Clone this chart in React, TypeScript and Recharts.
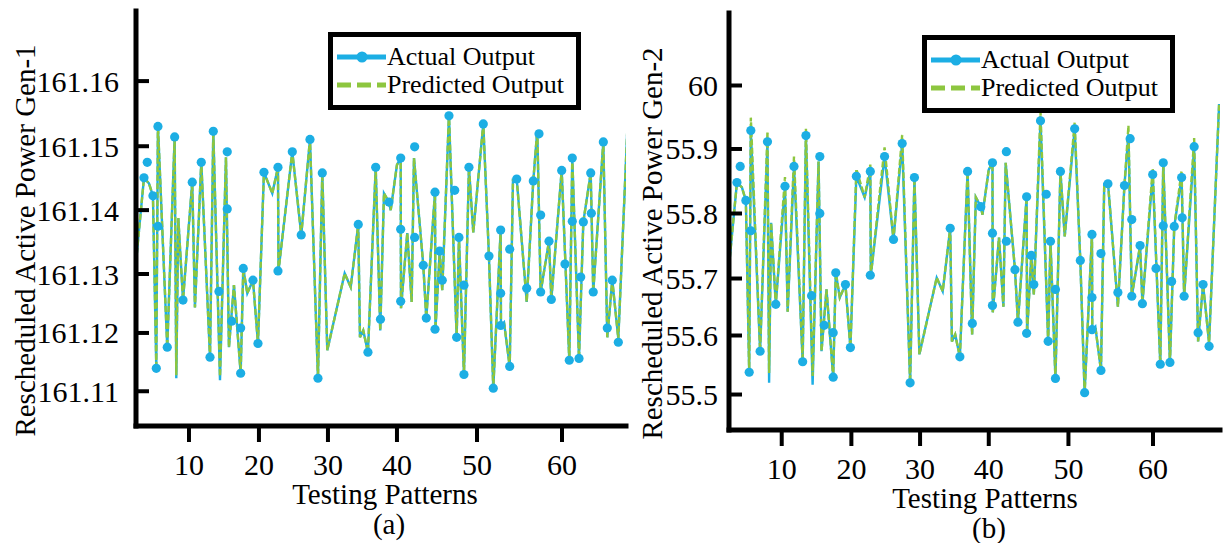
import { ComposedChart, Line, Scatter, XAxis, YAxis, Legend, Label } from "recharts";

const BLUE = "#1caee4";
const GREEN = "#8dc63f";
const FONT = '"Liberation Serif", "Times New Roman", serif';

// testing pattern position of each vertex of the output curves
const patternX = [
  2.9, 3.97, 4.64, 5.17, 5.62, 5.84, 7.09, 8.08, 8.3, 8.57,
  9.2, 10.44, 10.8, 11.65, 12.82, 13.26, 14.16, 14.96, 15.36, 16.03,
  16.93, 17.28, 17.82, 18.58, 19.25, 20.05, 21.17, 21.93, 22.0, 23.85,
  25.05, 26.22, 27.29, 27.87, 28.54, 30.87, 31.68, 32.69, 32.92, 33.36,
  33.99, 35.03, 35.64, 36.14, 36.81, 37.04, 37.88, 38.38, 38.42, 39.26,
  39.85, 40.16, 41.41, 41.81, 42.98, 43.04, 43.61, 43.95, 44.85, 45.88,
  46.19, 46.86, 47.53, 48.11, 49.45, 50.21, 50.79, 51.78, 51.82, 52.23,
  52.99, 53.43, 53.97, 55.27, 56.15, 56.69, 57.14, 58.26, 58.57, 59.96,
  60.98, 61.38, 62.28, 62.86, 63.85, 64.19, 65.54, 66.07, 66.74, 67.55,
  68.9,
];

const gen1Actual = [
  161.1308, 161.1444, 161.1435, 161.1415, 161.1137, 161.1527, 161.1171, 161.151, 161.1121, 161.1379,
  161.1247, 161.1437, 161.1235, 161.1469, 161.1155, 161.1519, 161.1118, 161.1477, 161.1171, 161.1271,
  161.1129, 161.1298, 161.1258, 161.1279, 161.1177, 161.1453, 161.1419, 161.1461, 161.1294, 161.1486,
  161.1352, 161.1506, 161.1121, 161.1452, 161.1166, 161.129, 161.1268, 161.1369, 161.1187, 161.1198,
  161.1163, 161.1461, 161.1198, 161.1419, 161.1405, 161.1392, 161.1465, 161.1476, 161.1234, 161.1355,
  161.1244, 161.1476, 161.1303, 161.1218, 161.1421, 161.12, 161.1326, 161.1263, 161.1544, 161.1187,
  161.1348, 161.1127, 161.1461, 161.1356, 161.1531, 161.1318, 161.1105, 161.136, 161.1206, 161.1211,
  161.114, 161.144, 161.1437, 161.1244, 161.1439, 161.1521, 161.126, 161.1342, 161.1248, 161.1456,
  161.115, 161.1476, 161.1153, 161.1373, 161.1452, 161.126, 161.1502, 161.1187, 161.1279, 161.1185,
  161.1561,
];

const gen1Predicted = [
  161.1308, 161.1444, 161.1435, 161.1415, 161.1142, 161.153, 161.1171, 161.151, 161.1126, 161.1379,
  161.1247, 161.1437, 161.1235, 161.1469, 161.1155, 161.1519, 161.1124, 161.1477, 161.1171, 161.1271,
  161.1129, 161.1298, 161.1258, 161.1279, 161.1177, 161.1453, 161.1419, 161.1461, 161.1294, 161.1486,
  161.1352, 161.1506, 161.1121, 161.1452, 161.1166, 161.129, 161.1268, 161.1369, 161.1187, 161.1198,
  161.1163, 161.1461, 161.1198, 161.1419, 161.1405, 161.1392, 161.1465, 161.1476, 161.1234, 161.1355,
  161.1244, 161.1476, 161.1303, 161.1218, 161.1421, 161.12, 161.1326, 161.1263, 161.1547, 161.1187,
  161.1348, 161.1127, 161.1461, 161.1356, 161.1531, 161.1318, 161.1105, 161.136, 161.1206, 161.1211,
  161.114, 161.144, 161.1437, 161.1244, 161.1439, 161.1521, 161.126, 161.1342, 161.1248, 161.1456,
  161.115, 161.1476, 161.1153, 161.1373, 161.1452, 161.126, 161.1502, 161.1187, 161.1279, 161.1185,
  161.1561,
];

const gen2Actual = [
  55.708, 55.843, 55.835, 55.814, 55.536, 55.927, 55.57, 55.909, 55.519, 55.778,
  55.646, 55.837, 55.634, 55.869, 55.553, 55.919, 55.516, 55.877, 55.57, 55.67,
  55.528, 55.697, 55.657, 55.678, 55.576, 55.853, 55.819, 55.861, 55.693, 55.885,
  55.751, 55.906, 55.519, 55.851, 55.565, 55.689, 55.667, 55.769, 55.586, 55.597,
  55.561, 55.861, 55.597, 55.819, 55.804, 55.791, 55.864, 55.875, 55.633, 55.754,
  55.642, 55.875, 55.702, 55.617, 55.82, 55.599, 55.725, 55.662, 55.943, 55.586,
  55.748, 55.526, 55.861, 55.756, 55.93, 55.717, 55.503, 55.759, 55.605, 55.61,
  55.539, 55.84, 55.837, 55.642, 55.838, 55.921, 55.659, 55.741, 55.647, 55.856,
  55.549, 55.875, 55.552, 55.772, 55.851, 55.659, 55.901, 55.586, 55.678, 55.584,
  55.97,
];

const gen2Predicted = [
  55.708, 55.843, 55.835, 55.814, 55.536, 55.948, 55.57, 55.925, 55.535, 55.778,
  55.646, 55.852, 55.634, 55.885, 55.553, 55.93, 55.53, 55.877, 55.57, 55.67,
  55.528, 55.697, 55.657, 55.678, 55.576, 55.865, 55.819, 55.872, 55.693, 55.9,
  55.751, 55.92, 55.519, 55.851, 55.565, 55.689, 55.667, 55.769, 55.586, 55.597,
  55.561, 55.861, 55.597, 55.819, 55.804, 55.791, 55.864, 55.875, 55.633, 55.754,
  55.642, 55.875, 55.702, 55.617, 55.82, 55.599, 55.725, 55.662, 55.958, 55.586,
  55.748, 55.526, 55.861, 55.756, 55.94, 55.717, 55.503, 55.759, 55.605, 55.61,
  55.539, 55.84, 55.837, 55.642, 55.838, 55.935, 55.659, 55.741, 55.647, 55.866,
  55.549, 55.875, 55.552, 55.772, 55.862, 55.659, 55.915, 55.586, 55.678, 55.584,
  55.97,
];

// marked samples of the actual output
const markerX = [
  3.97, 4.41, 5.17, 5.62, 5.84, 5.84, 7.09, 8.08, 9.2, 10.44,
  11.65, 12.82, 13.26, 14.02, 15.13, 15.13, 15.72, 16.93, 16.93, 17.28,
  18.58, 19.25, 20.05, 21.93, 21.93, 23.85, 25.05, 26.22, 27.29, 27.87,
  32.69, 33.99, 35.03, 35.67, 36.81, 38.38, 38.38, 38.38, 40.25, 40.25,
  41.41, 41.81, 42.98, 42.98, 43.61, 43.95, 44.85, 45.62, 45.88, 46.19,
  46.86, 46.86, 47.53, 49.45, 50.21, 50.79, 51.78, 51.78, 51.78, 52.99,
  52.99, 53.93, 55.27, 56.15, 56.92, 57.14, 57.14, 58.26, 58.57, 59.96,
  60.4, 60.98, 61.38, 61.38, 62.28, 62.51, 62.86, 63.85, 63.93, 64.19,
  65.54, 66.07, 66.74, 67.55,
];

const gen1Markers = [
  161.1444, 161.1469, 161.1415, 161.1137, 161.1527, 161.1366, 161.1171, 161.151, 161.1247, 161.1437,
  161.1469, 161.1155, 161.1519, 161.1261, 161.1486, 161.1394, 161.1213, 161.1129, 161.1202, 161.1298,
  161.1279, 161.1177, 161.1453, 161.1461, 161.1294, 161.1486, 161.1352, 161.1506, 161.1121, 161.1452,
  161.1369, 161.1163, 161.1461, 161.1216, 161.1405, 161.1476, 161.1361, 161.1245, 161.1494, 161.1348,
  161.1303, 161.1218, 161.1421, 161.12, 161.1326, 161.1279, 161.1544, 161.1424, 161.1187, 161.1348,
  161.1271, 161.1127, 161.1461, 161.1531, 161.1318, 161.1105, 161.136, 161.1258, 161.1206, 161.114,
  161.1329, 161.1442, 161.1266, 161.1439, 161.1515, 161.1384, 161.126, 161.1342, 161.1248, 161.1456,
  161.1305, 161.115, 161.1476, 161.1374, 161.1153, 161.1284, 161.1373, 161.1452, 161.1387, 161.126,
  161.1502, 161.1202, 161.1279, 161.1179,
];

const gen2Markers = [
  55.843, 55.869, 55.814, 55.536, 55.927, 55.765, 55.57, 55.909, 55.646, 55.837,
  55.869, 55.553, 55.919, 55.66, 55.885, 55.793, 55.612, 55.528, 55.6, 55.697,
  55.678, 55.576, 55.853, 55.861, 55.693, 55.885, 55.751, 55.906, 55.519, 55.851,
  55.769, 55.561, 55.861, 55.615, 55.804, 55.875, 55.761, 55.644, 55.893, 55.748,
  55.702, 55.617, 55.82, 55.599, 55.725, 55.678, 55.943, 55.824, 55.586, 55.748,
  55.67, 55.526, 55.861, 55.93, 55.717, 55.503, 55.759, 55.657, 55.605, 55.539,
  55.728, 55.841, 55.665, 55.838, 55.914, 55.783, 55.659, 55.741, 55.647, 55.856,
  55.704, 55.549, 55.875, 55.773, 55.552, 55.683, 55.772, 55.851, 55.786, 55.659,
  55.901, 55.6, 55.678, 55.578,
];

// tick marks sit where the printed figure puts them
const xTickPos = [10, 19.38, 28.63, 37.88, 48.61, 60];
const xTickLabels = ["10", "20", "30", "40", "50", "60"];
const gen1TickPos = [161.11, 161.1194, 161.1289, 161.1392, 161.1495, 161.16];
const gen1TickLabels = ["161.11", "161.12", "161.13", "161.14", "161.15", "161.16"];
const gen2TickPos = [55.5, 55.5955, 55.6877, 55.7929, 55.8973, 56.0];
const gen2TickLabels = ["55.5", "55.6", "55.7", "55.8", "55.9", "60"];

const rowsOf = (actual: number[], predicted: number[]) =>
  patternX.map((x, i) => ({ x, actual: actual[i], predicted: predicted[i] }));
const marksOf = (vals: number[]) => markerX.map((x, i) => ({ x, y: vals[i] }));

const frame = { stroke: "#000", strokeWidth: 5, strokeLinecap: "square" as const };

const labelFor = (ticks: number[], labels: string[], v: number) => labels[ticks.indexOf(v)] ?? "";

const LegendBox = ({ payload }: any) => {
  const items = (payload || []).filter((p: any) => p.type !== "none");
  return (
    <svg width={253} height={78} style={{ display: "block" }}>
      <rect x={2.5} y={2.5} width={248} height={73} fill="#fff" stroke="#000" strokeWidth={5} />
      {items.map((p: any, i: number) => {
        const cy = 25 + i * 28;
        const dashed = p.dataKey === "predicted";
        return (
          <g key={p.value}>
            <line x1={9} x2={58} y1={cy} y2={cy} stroke={p.color} strokeWidth={5}
              strokeDasharray={dashed ? "14 6" : undefined} />
            {!dashed && <circle cx={34} cy={cy} r={5.5} fill={BLUE} />}
            <text x={59} y={cy + 8} fontSize={26} fontFamily={FONT} fill="#000">{p.value}</text>
          </g>
        );
      })}
    </svg>
  );
};

type PanelProps = {
  left: number;
  width: number;
  plot: { left: number; right: number; top: number; bottom: number };
  xDomain: [number, number];
  yDomain: [number, number];
  yTicks: number[];
  yLabels: string[];
  labelGap: number;
  yTitle: string;
  yTitleX: number;
  xTitleX: number;
  caption: string;
  legendAt: { x: number; y: number };
  actual: number[];
  predicted: number[];
  marks: number[];
};

const Panel = (p: PanelProps) => {
  const H = 543;
  const rows = rowsOf(p.actual, p.predicted);
  const dots = marksOf(p.marks);
  const midY = (p.plot.top + p.plot.bottom) / 2;

  return (
    <div style={{ position: "absolute", left: p.left, top: 0 }}>
      <ComposedChart width={p.width} height={H}
        margin={{ top: p.plot.top, right: p.width - p.plot.right, bottom: 0, left: 0 }}>
        <XAxis xAxisId="b" dataKey="x" type="number" domain={p.xDomain} allowDataOverflow
          ticks={xTickPos} interval={0} height={H - p.plot.bottom} tickSize={0} tickMargin={0}
          axisLine={frame} tickLine={false}
          tick={(t: any) => (
            <g>
              <line x1={t.x} x2={t.x} y1={t.y + 2} y2={t.y + 16} stroke="#000" strokeWidth={4} />
              <text x={t.x} y={t.y + 38} textAnchor="middle" dominantBaseline="central"
                fontSize={30} fontFamily={FONT} fill="#000">
                {labelFor(xTickPos, xTickLabels, t.payload.value)}
              </text>
            </g>
          )}>
          <Label content={() => (
            <g fontFamily={FONT} fill="#000" fontSize={29} textAnchor="middle">
              <text x={p.xTitleX} y={p.plot.bottom + 68} dominantBaseline="central">Testing Patterns</text>
              <text x={p.xTitleX + 4} y={p.plot.bottom + 98} dominantBaseline="central">{p.caption}</text>
            </g>
          )} />
        </XAxis>
        <XAxis xAxisId="t" orientation="top" dataKey="x" type="number" domain={p.xDomain} allowDataOverflow
          ticks={xTickPos} interval={0} height={0} tickSize={0} tickMargin={0}
          axisLine={frame} tickLine={false}
          tick={(t: any) => <line x1={t.x} x2={t.x} y1={t.y} y2={t.y + 12} stroke="#000" strokeWidth={4} />} />
        <YAxis yAxisId="l" dataKey="y" type="number" domain={p.yDomain} allowDataOverflow
          ticks={p.yTicks} interval={0} width={p.plot.left} tickSize={0} tickMargin={0}
          axisLine={frame} tickLine={false}
          tick={(t: any) => (
            <g>
              <line x1={t.x} x2={t.x + 13} y1={t.y} y2={t.y} stroke="#000" strokeWidth={4} />
              <text x={t.x - p.labelGap} y={t.y} textAnchor="end" dominantBaseline="central"
                fontSize={30} fontFamily={FONT} fill="#000">
                {labelFor(p.yTicks, p.yLabels, t.payload.value)}
              </text>
            </g>
          )}>
          <Label content={() => (
            <text x={p.yTitleX} y={midY + 22} transform={`rotate(-90 ${p.yTitleX} ${midY + 22})`}
              textAnchor="middle" dominantBaseline="central" fontSize={29} fontFamily={FONT} fill="#000">
              {p.yTitle}
            </text>
          )} />
        </YAxis>
        <YAxis yAxisId="r" orientation="right" type="number" domain={p.yDomain} allowDataOverflow
          ticks={p.yTicks} interval={0} width={0} tickSize={0} tickMargin={0}
          axisLine={frame} tickLine={false}
          tick={(t: any) => <line x1={t.x - 13} x2={t.x} y1={t.y} y2={t.y} stroke="#000" strokeWidth={4} />} />

        <Line xAxisId="b" yAxisId="l" data={rows} dataKey="actual" name="Actual Output"
          stroke={BLUE} strokeWidth={2.4} dot={false} isAnimationActive={false} />
        <Line xAxisId="b" yAxisId="l" data={rows} dataKey="predicted" name="Predicted Output"
          stroke={GREEN} strokeWidth={2.4} strokeDasharray="6 2.5" dot={false} isAnimationActive={false} />
        <Scatter xAxisId="b" yAxisId="l" data={dots} dataKey="y" legendType="none" fill={BLUE}
          isAnimationActive={false}
          shape={(s: any) => <circle cx={s.cx} cy={s.cy} r={4.6} fill={BLUE} />} />

        <Legend layout="vertical" align="center" verticalAlign="middle" content={<LegendBox />}
          wrapperStyle={{ left: p.legendAt.x, top: p.legendAt.y, width: 253, height: 78 }} />
      </ComposedChart>
    </div>
  );
};

export default function App() {
  return (
    <div style={{ position: "absolute", left: 0, top: 0, width: 1223, height: 543, background: "#fff" }}>
      <Panel left={0} width={640}
        plot={{ left: 136, right: 626, top: 11, bottom: 426 }}
        xDomain={[2.9, 68.58]} yDomain={[161.1044, 161.1713]}
        yTicks={gen1TickPos} yLabels={gen1TickLabels} labelGap={17}
        yTitle="Rescheduled Active Power Gen-1" yTitleX={25} xTitleX={385} caption="(a)"
        legendAt={{ x: 328, y: 32 }}
        actual={gen1Actual} predicted={gen1Predicted} marks={gen1Markers} />
      <Panel left={630} width={593}
        plot={{ left: 99, right: 590, top: 13, bottom: 430 }}
        xDomain={[2.9, 69.02]} yDomain={[55.4426, 56.1173]}
        yTicks={gen2TickPos} yLabels={gen2TickLabels} labelGap={11}
        yTitle="Rescheduled Active Power Gen-2" yTitleX={22} xTitleX={355} caption="(b)"
        legendAt={{ x: 292, y: 35 }}
        actual={gen2Actual} predicted={gen2Predicted} marks={gen2Markers} />
    </div>
  );
}
